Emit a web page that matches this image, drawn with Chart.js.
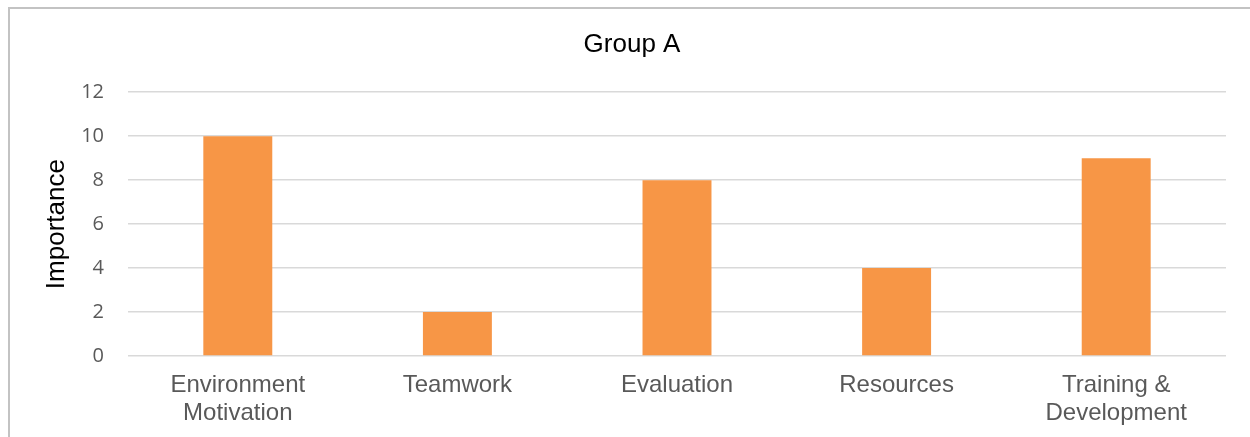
<!DOCTYPE html>
<html>
<head>
<meta charset="utf-8">
<title>Group A</title>
<script src="https://cdn.jsdelivr.net/npm/chart.js@4.4.1/dist/chart.umd.min.js"></script>
<style>
    html, body { margin: 0; padding: 0; background: #fff; overflow: hidden; }
    .wrap { position: relative; width: 1250px; height: 437px; }
    .frame { position: absolute; left: 8px; top: 7px; width: 1300px; height: 500px; border: 2px solid #c3c3c3; pointer-events: none; }
</style>
</head>
<body>
<div class="wrap">
    <canvas id="graficoGrupoA" width="1250" height="437"></canvas>
    <div class="frame"></div>
</div>
<script>
// ========== DADOS ==========
const categorias = [['Environment', 'Motivation'], 'Teamwork', 'Evaluation', 'Resources', ['Training &', 'Development']];
const importancia = [10, 2, 8, 4, 9];
const yMin = 0, yMax = 12, yStep = 2;

// ========== GRÁFICO ==========
const corBarra = '#F79646';
const cinzaTexto = '#595959';

new Chart(document.getElementById('graficoGrupoA'), {
    type: 'bar',
    data: {
        labels: categorias,
        datasets: [{
            label: 'Group A',
            data: importancia,
            backgroundColor: corBarra,
            borderWidth: 0,
            categoryPercentage: 1,
            barPercentage: 0.314
        }]
    },
    options: {
        responsive: false,
        animation: false,
        layout: { padding: { left: 14, right: 0, top: 0, bottom: 0 } },
        plugins: {
            legend: { display: false },
            tooltip: { enabled: false },
            title: {
                display: true,
                text: 'Group A',
                color: '#000',
                font: { family: 'Liberation Sans', size: 26, weight: 'normal' },
                padding: { top: 29, bottom: 32 }
            }
        },
        scales: {
            x: {
                grid: { display: false, drawTicks: false },
                border: { display: false },
                ticks: {
                    color: cinzaTexto,
                    padding: 16,
                    maxRotation: 0,
                    autoSkip: false,
                    font: { family: 'Liberation Sans', size: 24, lineHeight: 1.15 }
                },
                afterFit: s => { s.height = 81; }
            },
            y: {
                min: yMin,
                max: yMax,
                grid: { color: '#d9d9d9', lineWidth: 1.5, drawTicks: false },
                border: { display: false },
                ticks: {
                    stepSize: yStep,
                    color: cinzaTexto,
                    padding: 24,
                    font: { family: 'Open Sans', size: 20 }
                },
                title: {
                    display: true,
                    text: 'Importance',
                    color: '#000',
                    font: { family: 'Liberation Sans', size: 26, weight: 'normal' },
                    padding: { top: 27, bottom: 0 }
                },
                afterFit: s => { s.width = 114; }
            },
            // eixo vazio à direita, só para reservar a margem
            margem: {
                type: 'linear',
                position: 'right',
                grid: { display: false, drawTicks: false },
                border: { display: false },
                ticks: { display: false },
                afterFit: s => { s.width = 24; }
            }
        }
    }
});
</script>
</body>
</html>
